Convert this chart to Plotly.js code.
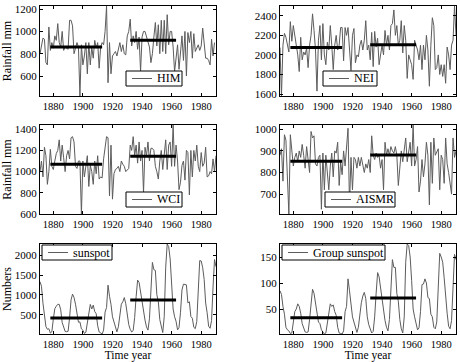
<!DOCTYPE html>
<html>
<head>
<meta charset="utf-8">
<script src="https://cdn.plot.ly/plotly-3.0.1.min.js"></script>
<style>
  html, body { margin: 0; padding: 0; background: #fff; }
  #chart { width: 460px; height: 362px; }
</style>
</head>
<body>
<div id="chart"></div>
<script>
// years 1871..1990
const firstYear = 1871;
const lastYear = 1990;

// rainfall series (mm)
const him = [800, 870, 940, 930, 720, 700, 1040, 830, 900, 850, 960, 920, 1070, 900,
  860, 1000, 830, 860, 850, 840, 1100, 1100, 1050, 800, 850, 900, 860, 421, 880,
  700, 780, 900, 620, 900, 700, 860, 760, 920, 850, 900, 670, 860, 900, 880, 1000,
  1228, 540, 900, 620, 780, 800, 820, 780, 840, 900, 820, 880, 800, 790, 960, 1000,
  1110, 870, 960, 900, 1000, 840, 950, 640, 950, 1000, 1000, 960, 900, 860, 720,
  800, 950, 1080, 870, 1060, 800, 1100, 820, 1100, 800, 1150, 880, 1000, 1000, 860,
  640, 780, 880, 660, 860, 960, 740, 1000, 600, 990, 900, 1000, 760, 980, 820, 860,
  880, 830, 870, 1030, 900, 760, 760, 740, 700, 930, 780, 900];

const nei = [2075, 1580, 2100, 2220, 2180, 2100, 2030, 2340, 2140, 2300, 2200, 2150,
  2000, 1830, 2180, 1950, 2030, 2000, 2070, 1870, 2100, 2200, 2420, 2250, 2050, 1630,
  2150, 2300, 1950, 2320, 2000, 1900, 2130, 2050, 2300, 2100, 1850, 2100, 2200, 2050,
  2100, 2280, 2280, 1940, 2280, 2200, 2280, 2060, 1840, 2200, 2270, 1920, 2000, 1980,
  2100, 2150, 2050, 2150, 2350, 2050, 2100, 1950, 2230, 1880, 2240, 2080, 2170, 1900,
  2020, 2100, 2000, 2250, 2100, 2200, 2050, 2300, 2320, 2460, 2200, 2300, 2100, 2150,
  2350, 2020, 2300, 2150, 1760, 2000, 1950, 1900, 1750, 2150, 2100, 2050, 1950, 2100,
  1850, 2100, 1950, 2200, 2050, 1680, 2100, 2380, 2300, 1850, 1870, 2000, 1800, 1900,
  1780, 1900, 1710, 2080, 2000, 1850, 2100, 2150, 2500, 2200];

const wci = [1000, 1100, 950, 1230, 1150, 880, 1000, 1210, 1050, 1020, 1100, 1170,
  1200, 1300, 1100, 1250, 1130, 1000, 1150, 1200, 1120, 1320, 1330, 1280, 1050, 1030,
  1100, 1100, 600, 1100, 950, 1050, 1150, 860, 1060, 1000, 880, 1100, 980, 1150, 930,
  950, 940, 1120, 1230, 1330, 1320, 770, 1250, 740, 980, 1020, 1030, 1050, 1000, 1100,
  1070, 1050, 1000, 1020, 1030, 1250, 1200, 1330, 1150, 1250, 1080, 1280, 1100, 1200,
  800, 1230, 1150, 1280, 1100, 1220, 1220, 1200, 1050, 1000, 930, 1100, 1200, 1020,
  1200, 1300, 1020, 1250, 1280, 1050, 1440, 1050, 1250, 1100, 830, 900, 1060, 1100,
  920, 1200, 1180, 780, 1200, 950, 1200, 1100, 1250, 1050, 1000, 1180, 1050, 1080,
  1230, 950, 960, 1000, 980, 1120, 1000, 1150];

const aismr = [880, 910, 760, 975, 950, 800, 608, 975, 880, 830, 870, 890, 850, 900,
  870, 930, 880, 820, 920, 870, 800, 990, 960, 970, 840, 830, 870, 880, 630, 890, 720,
  880, 800, 720, 830, 890, 780, 900, 890, 940, 740, 850, 790, 900, 830, 940, 1005,
  650, 870, 720, 870, 860, 820, 870, 830, 870, 830, 800, 840, 820, 860, 800, 970, 880,
  860, 890, 870, 880, 820, 860, 720, 940, 880, 910, 880, 920, 900, 890, 920, 880, 740,
  840, 900, 850, 920, 960, 850, 900, 940, 830, 1020, 830, 860, 920, 710, 760, 860, 780,
  840, 940, 880, 650, 940, 750, 960, 880, 900, 910, 720, 880, 860, 750, 960, 840, 800,
  760, 700, 960, 870, 900];

// sunspot numbers (yearly totals) and group sunspot numbers
const sunspot = [1334, 1219, 794, 536, 204, 136, 149, 41, 72, 388, 652, 716, 764, 762,
  626, 305, 157, 82, 76, 85, 427, 876, 1021, 936, 768, 502, 314, 320, 145, 114, 32, 60,
  293, 504, 762, 646, 744, 582, 527, 223, 68, 43, 17, 115, 569, 685, 1247, 967, 763,
  451, 313, 170, 70, 200, 532, 767, 828, 934, 779, 428, 254, 133, 68, 104, 433, 956,
  1373, 1315, 1066, 814, 570, 367, 196, 115, 398, 1111, 1819, 1636, 1616, 1007, 833,
  378, 167, 53, 456, 1700, 2282, 2218, 1908, 1348, 647, 451, 335, 122, 181, 564, 1126,
  1271, 1266, 1254, 799, 827, 456, 414, 186, 151, 330, 1110, 1865, 1855, 1685, 1391,
  799, 551, 215, 161, 353, 1202, 1891, 1711];

const groupSunspot = [85, 78, 55, 40, 15, 10, 8, 3, 4, 28, 45, 50, 60, 55, 42, 22, 12,
  6, 5, 6, 30, 65, 88, 80, 62, 40, 25, 22, 10, 6, 2, 4, 22, 40, 60, 55, 58, 45, 38, 15,
  4, 3, 2, 8, 45, 55, 108, 85, 60, 35, 25, 12, 5, 15, 40, 62, 75, 82, 70, 35, 20, 10,
  4, 7, 35, 80, 120, 112, 90, 65, 45, 28, 15, 8, 30, 90, 145, 130, 130, 80, 65, 30, 12,
  4, 35, 140, 175, 172, 150, 105, 50, 35, 25, 10, 14, 45, 97, 98, 108, 100, 72, 70, 40,
  35, 15, 12, 25, 90, 157, 150, 140, 110, 65, 42, 17, 12, 28, 98, 155, 145];

// period means: [start, end] years and level of each panel
const periodA = [1878, 1913];
const periodB = [1932, 1963];
const himMeans = [860, 920];
const neiMeans = [2075, 2103];
const wciMeans = [1070, 1146];
const aismrMeans = [852, 881];
const sunspotMeans = [420, 870];
const groupMeans = [33, 71];

const panelNames = ['HIM', 'NEI', 'WCI', 'AISMR', 'sunspot', 'Group sunspot'];
const yTicks = [
  [600, 800, 1000, 1200],
  [1600, 1800, 2000, 2200, 2400],
  [600, 800, 1000, 1200, 1400],
  [700, 800, 900, 1000],
  [500, 1000, 1500, 2000],
  [50, 100, 150]
];
const xTicks = [1880, 1900, 1920, 1940, 1960, 1980];

const years = [];
for (let y = firstYear; y <= lastYear; y++) years.push(y);

const series = [him, nei, wci, aismr, sunspot, groupSunspot];
const means = [himMeans, neiMeans, wciMeans, aismrMeans, sunspotMeans, groupMeans];

const W = 460, H = 362;
const serif = 'Liberation Serif, Times New Roman, serif';
const grey = '#5c5c5c';

// plot boxes in pixels: [left, right, top, bottom]
const boxes = [
  [40, 216, 6, 96], [280, 456, 6, 96],
  [40, 216, 125, 214], [280, 456, 125, 214],
  [40, 216, 244, 334], [280, 456, 244, 334]
];
// legend boxes in pixels: [left, right, top, bottom]
const legendBoxes = [
  [126, 182, 71, 86], [323, 377, 71, 86],
  [126, 182, 192, 207], [325, 395, 192, 207],
  [42, 112, 245, 260], [282, 385, 245, 260]
];

const px = v => v / W;
const py = v => 1 - v / H;

const data = [];
const shapes = [];
const annotations = [];
const layout = {
  width: W, height: H,
  margin: {l: 0, r: 0, t: 0, b: 0},
  paper_bgcolor: '#fff', plot_bgcolor: '#fff',
  font: {family: serif, size: 11, color: '#000'},
  showlegend: false
};

for (let i = 0; i < 6; i++) {
  const n = i === 0 ? '' : String(i + 1);
  data.push({
    x: years, y: series[i], xaxis: 'x' + n, yaxis: 'y' + n,
    type: 'scatter', mode: 'lines', name: panelNames[i],
    line: {color: grey, width: 1}
  });
  data.push({
    x: periodA, y: [means[i][0], means[i][0]], xaxis: 'x' + n, yaxis: 'y' + n,
    type: 'scatter', mode: 'lines',
    line: {color: '#000', width: 3}
  });
  data.push({
    x: periodB, y: [means[i][1], means[i][1]], xaxis: 'x' + n, yaxis: 'y' + n,
    type: 'scatter', mode: 'lines',
    line: {color: '#000', width: 3}
  });

  const b = boxes[i];
  const lo = Math.min(...series[i]), hi = Math.max(...series[i]);
  const axBase = {
    showline: true, linecolor: '#000', linewidth: 1, mirror: 'ticks',
    ticks: 'inside', ticklen: 3, tickcolor: '#000',
    showgrid: false, zeroline: false
  };
  layout['xaxis' + n] = Object.assign({}, axBase, {
    domain: [px(b[0]), px(b[1])],
    range: [firstYear, lastYear],
    tickvals: xTicks,
    tickfont: {family: serif, size: 10.5, color: '#000'},
    anchor: 'y' + n
  });
  layout['yaxis' + n] = Object.assign({}, axBase, {
    domain: [py(b[3]), py(b[2])],
    range: [lo, hi],
    tickvals: yTicks[i],
    tickfont: {family: serif, size: 11, color: '#000'},
    anchor: 'x' + n
  });

  // legend box drawn by hand (Matlab style, compact)
  const lb = legendBoxes[i];
  const mid = (lb[2] + lb[3]) / 2;
  shapes.push({
    type: 'rect', xref: 'paper', yref: 'paper', layer: 'above',
    x0: px(lb[0]), x1: px(lb[1]), y0: py(lb[3]), y1: py(lb[2]),
    fillcolor: '#fff', line: {color: '#000', width: 1}
  });
  shapes.push({
    type: 'line', xref: 'paper', yref: 'paper', layer: 'above',
    x0: px(lb[0] + 6), x1: px(lb[0] + 26), y0: py(mid), y1: py(mid),
    line: {color: grey, width: 1}
  });
  annotations.push({
    xref: 'paper', yref: 'paper', x: px(lb[0] + 29), y: py(mid),
    xanchor: 'left', yanchor: 'middle', showarrow: false,
    text: panelNames[i], font: {family: serif, size: 12, color: '#000'}
  });
}

layout.shapes = shapes;
layout.annotations = annotations;
layout.yaxis.title = {text: 'Rainfall mm', font: {family: serif, size: 12}};
layout.yaxis3.title = {text: 'Rainfall mm', font: {family: serif, size: 12}};
layout.yaxis5.title = {text: 'Numbers', font: {family: serif, size: 12}};
layout.xaxis5.title = {text: 'Time year', font: {family: serif, size: 11.5}, standoff: 4};
layout.xaxis6.title = {text: 'Time year', font: {family: serif, size: 11.5}, standoff: 4};

Plotly.newPlot('chart', data, layout, {displayModeBar: false, staticPlot: true});
</script>
</body>
</html>
